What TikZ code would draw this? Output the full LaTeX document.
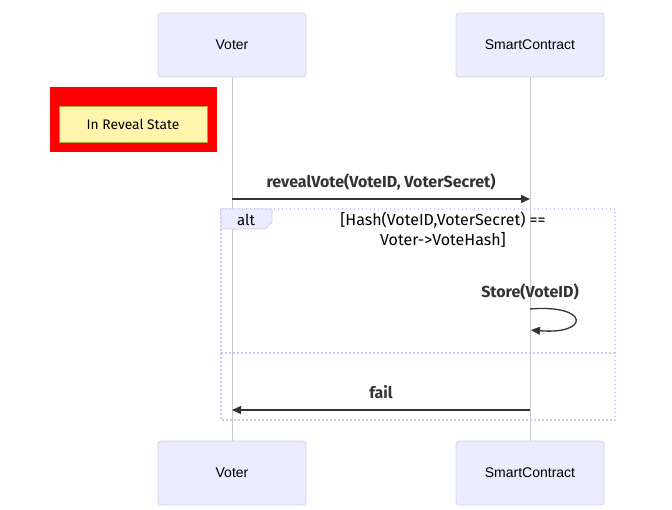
\documentclass[tikz,border=0pt]{standalone}
\usepackage{fontspec}
\setmainfont{Liberation Sans}
\newfontfamily\msgfont{Fira Sans}
\usetikzlibrary{arrows.meta}
\definecolor{actfill}{HTML}{ECECFF}
\definecolor{actdraw}{HTML}{D8CFF5}
\definecolor{lifeln}{HTML}{C8C8C8}
\definecolor{notefill}{HTML}{FFF5AD}
\definecolor{notedraw}{HTML}{AAAA33}
\definecolor{altdraw}{HTML}{CFC7F2}
\definecolor{arr}{HTML}{333333}
\tikzset{
  actor/.style={draw=actdraw, fill=actfill, rounded corners=3pt, minimum width=148pt, minimum height=64pt, font=\fontsize{14}{16}\selectfont, line width=0.8pt},
  msg/.style={draw=arr, line width=1.3pt, -{Triangle[length=9pt,width=8pt]}},
  msglabel/.style={font=\msgfont\fontsize{16}{18}\selectfont\bfseries, text=arr, inner sep=0pt},
  lifeline/.style={draw=lifeln, line width=0.8pt},
  altline/.style={draw=altdraw, line width=1.4pt, dash pattern=on 1.5pt off 2.5pt},
}
\begin{document}
\begin{tikzpicture}[x=1pt,y=-1pt]
\useasboundingbox (0,0) rectangle (672,509);
% lifelines
\coordinate (vtop) at (232,77);
\coordinate (vbot) at (232,441);
\coordinate (stop) at (530,77);
\coordinate (sbot) at (530,441);
\draw[lifeline] (vtop) -- (vbot);
\draw[lifeline] (stop) -- (sbot);
% actors
\node[actor] (voterT) at (232,45) {Voter};
\node[actor] (scT) at (530,45) {SmartContract};
\node[actor] (voterB) at (232,473) {Voter};
\node[actor] (scB) at (530,473) {SmartContract};
% note
\node[fill=red, minimum width=167pt, minimum height=65pt, inner sep=0pt] (redbox) at (133.5,119.5) {};
\node[draw=notedraw, fill=notefill, minimum width=148pt, minimum height=36pt, inner sep=0pt, line width=0.8pt, font=\msgfont\fontsize{13.8}{16}\selectfont] (note) at (133,124) {In Reveal State};
% message 1
\coordinate (m1a) at (232,199);
\coordinate (m1b) at (530,199);
\draw[msg] (m1a) -- (m1b);
\node[msglabel] (m1l) at (381,182) {revealVote(VoteID, VoterSecret)};
% alt box
\draw[altline] (221,209) rectangle (615,420);
\draw[altline] (221,353) -- (615,353);
\filldraw[draw=altdraw, fill=actfill, line width=0.8pt] (221,209) -- (272,209) -- (272,222) -- (265,229) -- (221,229) -- cycle;
\node[font=\msgfont\fontsize{15}{17}\selectfont, text=black, inner sep=0pt] (altlbl) at (246,220) {alt};
\node[font=\msgfont\fontsize{16}{20}\selectfont, text=black, align=center, inner sep=0pt] (cond) at (443,230) {[Hash(VoteID,VoterSecret) ==\\Voter->VoteHash]};
% self message
\node[msglabel] (m2l) at (530,292) {Store(VoteID)};
\coordinate (s1) at (530,309);
\coordinate (s2) at (531,330);
\draw[draw=arr, line width=1.3pt, -{Triangle[length=9pt,width=8pt]}] (s1) .. controls (590,304) and (590,335) .. (s2);
% fail
\coordinate (m3a) at (530,410);
\coordinate (m3b) at (232,410);
\draw[msg] (m3a) -- (m3b);
\node[msglabel] (m3l) at (381,392) {fail};
\end{tikzpicture}
\end{document}
